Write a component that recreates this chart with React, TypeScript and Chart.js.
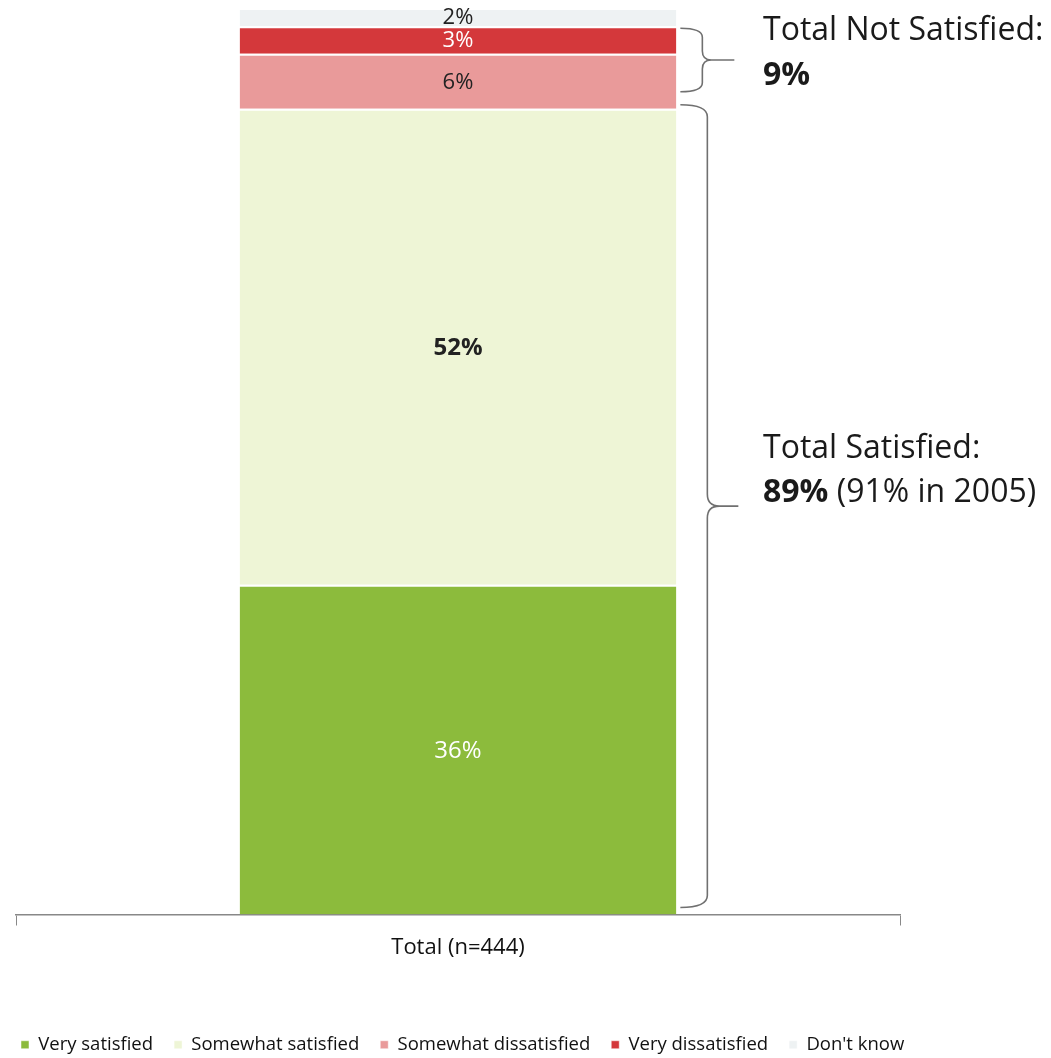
import React, { useEffect, useRef } from "react";
import { Chart, registerables } from "chart.js";

Chart.register(...registerables);

const categories = ["Total (n=444)"];
const seriesNames = ["Very satisfied", "Somewhat satisfied", "Somewhat dissatisfied", "Very dissatisfied", "Don't know"];
const verySatisfied = [36];
const somewhatSatisfied = [52];
const somewhatDissatisfied = [6];
const veryDissatisfied = [3];
const dontKnow = [2];
const seriesColors = ["#8cbb3c", "#eef5d6", "#e99a9a", "#d4383b", "#eef2f3"];
const labelColors = ["#ffffff", "#222222", "#222222", "#ffffff", "#222222"];
const notSatisfiedTitle = "Total Not Satisfied:";
const notSatisfiedValue = "9%";
const satisfiedTitle = "Total Satisfied:";
const satisfiedValue = "89%";
const satisfiedNote = " (91% in 2005)";

const FONT = "'Open Sans', 'Noto Sans', sans-serif";
const W = 1051;
const H = 1058;

function drawBrace(ctx: CanvasRenderingContext2D, x0: number, xv: number, xtip: number, y1: number, y2: number, r: number) {
  const ym = (y1 + y2) / 2;
  ctx.beginPath();
  ctx.moveTo(x0, y1);
  ctx.quadraticCurveTo(xv, y1, xv, y1 + r);
  ctx.lineTo(xv, ym - r);
  ctx.quadraticCurveTo(xv, ym, xv + r, ym);
  ctx.lineTo(xtip, ym);
  ctx.moveTo(xv + r, ym);
  ctx.quadraticCurveTo(xv, ym, xv, ym + r);
  ctx.lineTo(xv, y2 - r);
  ctx.quadraticCurveTo(xv, y2, x0, y2);
  ctx.stroke();
}

const legendShiftPlugin = {
  id: "legendShift",
  afterLayout(chart: any) {
    if (chart.legend) {
      chart.legend.top += 6;
      chart.legend.bottom += 6;
    }
  },
};

const annotationPlugin = {
  id: "annotations",
  afterDatasetsDraw(chart: any) {
    const ctx: CanvasRenderingContext2D = chart.ctx;
    ctx.save();
    ctx.textAlign = "center";
    ctx.textBaseline = "middle";
    chart.data.datasets.forEach((ds: any, di: number) => {
      const meta = chart.getDatasetMeta(di);
      meta.data.forEach((bar: any, i: number) => {
        const v = ds.data[i];
        const cy = (bar.y + bar.base) / 2;
        ctx.fillStyle = labelColors[di];
        ctx.font = `${di === 1 ? "bold " : ""}${di >= 2 ? 22 : 24}px ${FONT}`;
        ctx.fillText(`${v}%`, bar.x, cy + 1);
      });
    });
    const y = chart.scales.y;
    const meta0 = chart.getDatasetMeta(0).data[0];
    const barRight = meta0.x + meta0.width / 2;
    const satTop = verySatisfied[0] + somewhatSatisfied[0];
    const notTop = satTop + somewhatDissatisfied[0] + veryDissatisfied[0];
    ctx.strokeStyle = "#707070";
    ctx.lineWidth = 1.6;
    drawBrace(ctx, barRight + 4, barRight + 26, barRight + 58, y.getPixelForValue(notTop) + 2, y.getPixelForValue(satTop) - 17, 9);
    drawBrace(ctx, barRight + 4, barRight + 31, barRight + 62, y.getPixelForValue(satTop) - 4, y.getPixelForValue(0) - 7, 12);
    ctx.textAlign = "left";
    ctx.textBaseline = "middle";
    ctx.fillStyle = "#1a1a1a";
    const tx = 763;
    ctx.font = `32px ${FONT}`;
    ctx.fillText(notSatisfiedTitle, tx, 31);
    ctx.font = `bold 32px ${FONT}`;
    ctx.fillText(notSatisfiedValue, tx, 76);
    ctx.font = `32px ${FONT}`;
    ctx.fillText(satisfiedTitle, tx, 449);
    ctx.font = `bold 32px ${FONT}`;
    ctx.fillText(satisfiedValue, tx, 493);
    const w = ctx.measureText(satisfiedValue).width;
    ctx.font = `32px ${FONT}`;
    ctx.fillText(satisfiedNote, tx + w, 493);
    ctx.restore();
  },
};

const hiddenAxis = (position: string, width: number) => ({
  position,
  display: true,
  grid: { display: false },
  border: { display: false },
  ticks: { display: false },
  afterFit: (scale: any) => {
    scale.width = width;
  },
});

export default function App() {
  const ref = useRef<HTMLCanvasElement>(null);
  useEffect(() => {
    if (!ref.current) return;
    const data = [verySatisfied, somewhatSatisfied, somewhatDissatisfied, veryDissatisfied, dontKnow];
    const chart = new Chart(ref.current, {
      type: "bar",
      data: {
        labels: categories,
        datasets: data.map((d, i) => ({
          label: seriesNames[i],
          data: d,
          backgroundColor: seriesColors[i],
          borderColor: "#ffffff",
          borderWidth: { top: 2, bottom: 0, left: 0, right: 0 },
          borderSkipped: false,
          barPercentage: 0.494,
          categoryPercentage: 1,
        })),
      },
      options: {
        responsive: false,
        maintainAspectRatio: false,
        animation: false,
        devicePixelRatio: 1,
        layout: { padding: { left: 0, right: 0, top: 8, bottom: 0 } },
        scales: {
          x: {
            stacked: true,
            grid: { display: true, drawOnChartArea: false, drawTicks: true, tickLength: 11, color: "#888888", offset: true },
            border: { display: true, color: "#888888", width: 1.6 },
            ticks: { color: "#111111", font: { family: FONT, size: 22 }, padding: 9 },
            afterFit: (scale: any) => {
              scale.height = 94;
            },
          },
          y: { ...hiddenAxis("left", 16), stacked: true, min: 0, max: 99 },
          yRight: { ...hiddenAxis("right", 151), type: "linear", min: 0, max: 99 },
        } as any,
        plugins: {
          tooltip: { enabled: false },
          legend: {
            position: "bottom",
            align: "start",
            labels: {
              boxWidth: 8,
              boxHeight: 8,
              padding: 21,
              color: "#111111",
              font: { family: FONT, size: 18.5 },
            },
          },
        },
      },
      plugins: [legendShiftPlugin, annotationPlugin],
    });
    return () => chart.destroy();
  }, []);
  return (
    <div style={{ position: "fixed", left: 0, top: 0, width: W, height: H, background: "#fff", overflow: "hidden" }}>
      <canvas ref={ref} width={W} height={H} style={{ display: "block", width: W, height: H }} />
    </div>
  );
}
